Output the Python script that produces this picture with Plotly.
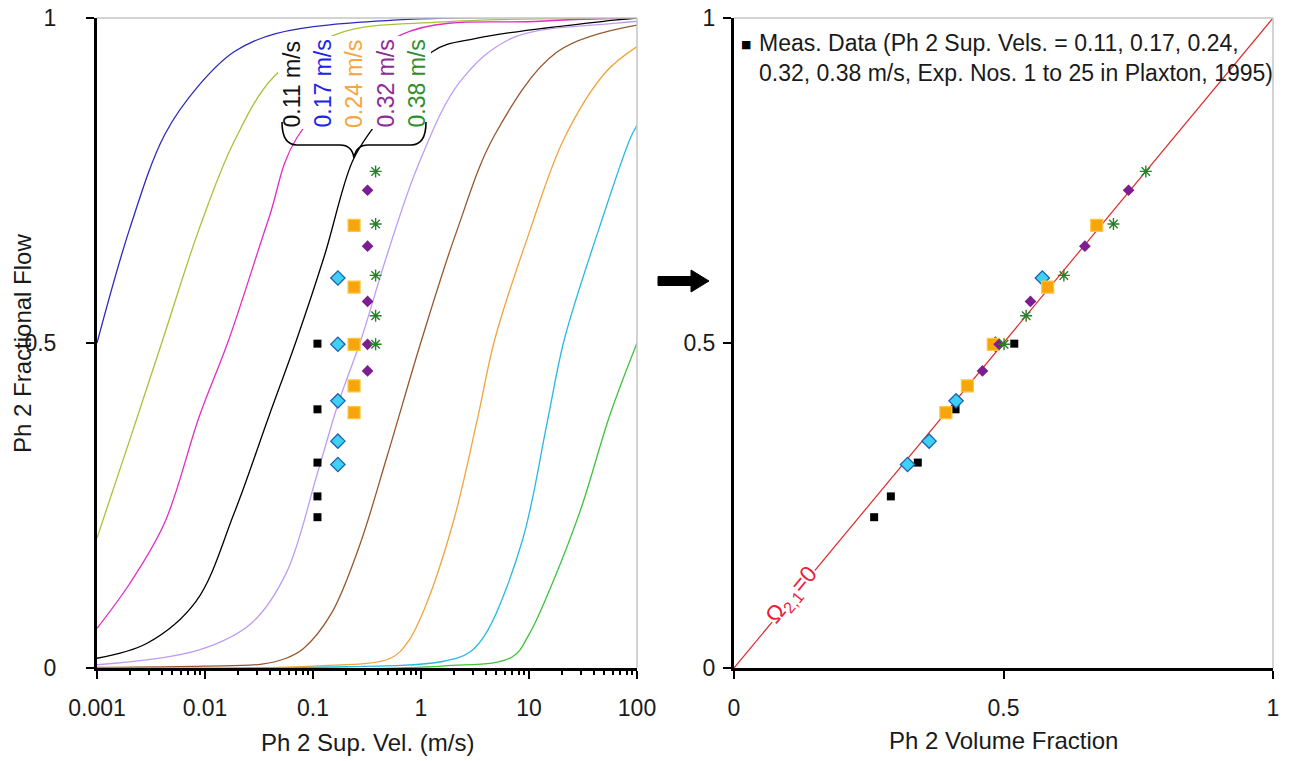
import plotly.graph_objects as go

W, H = 1293, 761
FONT = "Arial, Liberation Sans, sans-serif"

# ---------------- data ----------------
# model curves (left panel): Ph 2 superficial velocity (m/s) -> Ph 2 fractional flow
blue_x = [0.001, 0.00201, 0.00422, 0.00885, 0.0186, 0.0452, 0.604, 100]
blue_y = [0.500, 0.676, 0.820, 0.897, 0.948, 0.976, 0.997, 1.000]
olive_x = [0.001, 0.00201, 0.00406, 0.00885, 0.0186, 0.0436, 0.171, 1.585, 100]
olive_y = [0.200, 0.351, 0.505, 0.676, 0.810, 0.910, 0.976, 0.994, 1.000]
magenta_x = [0.001, 0.00201, 0.00422, 0.00885, 0.0166, 0.039, 0.0705, 0.652, 12.6, 100]
magenta_y = [0.061, 0.130, 0.223, 0.387, 0.505, 0.692, 0.815, 0.974, 0.995, 1.000]
black_x = [0.001, 0.00291, 0.00822, 0.0186, 0.039, 0.0705, 0.128, 0.231, 0.36, 1.27, 3.32, 64.6, 100]
black_y = [0.015, 0.038, 0.102, 0.238, 0.387, 0.505, 0.635, 0.779, 0.831, 0.948, 0.969, 0.997, 1.000]
lavender_x = [0.001, 0.00885, 0.0269, 0.0565, 0.110, 0.171, 0.278, 0.484, 0.944, 2.30, 6.97, 64.6, 100]
lavender_y = [0.005, 0.028, 0.069, 0.146, 0.300, 0.407, 0.505, 0.635, 0.774, 0.902, 0.969, 0.992, 0.995]
brown_x = [0.001, 0.01, 0.0336, 0.0565, 0.0817, 0.148, 0.268, 0.484, 1.014, 2.13, 4.81, 18.3, 100]
brown_y = [0.001, 0.003, 0.006, 0.015, 0.030, 0.084, 0.187, 0.325, 0.505, 0.671, 0.820, 0.948, 0.989]
orange_x = [0.001, 0.1, 0.521, 0.755, 1.094, 1.977, 3.32, 4.81, 10.1, 21.2, 51.5, 100]
orange_y = [0.000, 0.003, 0.015, 0.040, 0.094, 0.223, 0.382, 0.505, 0.671, 0.815, 0.917, 0.956]
cyan_x = [0.001, 0.1, 1.585, 2.86, 4.15, 8.71, 14.66, 21.2, 44.5, 86.7, 100]
cyan_y = [0.000, 0.001, 0.010, 0.025, 0.058, 0.197, 0.376, 0.505, 0.676, 0.815, 0.835]
green_x = [0.001, 1.585, 6.97, 10.1, 16.9, 30.7, 55.5, 100]
green_y = [0.000, 0.003, 0.017, 0.053, 0.135, 0.248, 0.387, 0.500]

curve_names = ["blue", "olive", "magenta", "black", "lavender", "brown", "orange", "cyan", "green"]
curve_colors = ["#2b2bbd", "#a6c338", "#e22cc6", "#000000", "#bf9cf2",
                "#98562c", "#f2a43c", "#28b9e2", "#3cc43c"]
curve_xs = [blue_x, olive_x, magenta_x, black_x, lavender_x, brown_x, orange_x, cyan_x, green_x]
curve_ys = [blue_y, olive_y, magenta_y, black_y, lavender_y, brown_y, orange_y, cyan_y, green_y]

# measured data (Plaxton, 1995): Ph 2 sup. velocities, fractional flows, volume fractions
sup_vel = [0.11, 0.17, 0.24, 0.32, 0.38]
frac_flow_011 = [0.499, 0.398, 0.316, 0.264, 0.232]
vol_frac_011 = [0.520, 0.411, 0.341, 0.291, 0.260]
frac_flow_017 = [0.600, 0.498, 0.411, 0.349, 0.313]
vol_frac_017 = [0.572, 0.485, 0.412, 0.362, 0.322]
frac_flow_024 = [0.681, 0.586, 0.498, 0.434, 0.393]
vol_frac_024 = [0.673, 0.582, 0.481, 0.433, 0.393]
frac_flow_032 = [0.735, 0.649, 0.564, 0.498, 0.457]
vol_frac_032 = [0.732, 0.651, 0.550, 0.492, 0.461]
frac_flow_038 = [0.764, 0.683, 0.604, 0.542, 0.498]
vol_frac_038 = [0.764, 0.704, 0.612, 0.542, 0.501]

# no-slip reference line (right panel)
ref_x = [0, 1]
ref_y = [0, 1]

# tick labels
left_x_tickvals = [0.001, 0.01, 0.1, 1, 10, 100]
left_x_ticktext = ["0.001", "0.01", "0.1", "1", "10", "100"]
y_tickvals = [0, 0.5, 1]
y_ticktext = ["0", "0.5", "1"]
right_x_tickvals = [0, 0.5, 1]
right_x_ticktext = ["0", "0.5", "1"]
vel_labels = ["0.11 m/s", "0.17 m/s", "0.24 m/s", "0.32 m/s", "0.38 m/s"]
vel_label_colors = ["#111111", "#2323e6", "#f5a640", "#8e2a9a", "#2f8f2f"]

# ---------------- figure ----------------
fig = go.Figure()

for nm, c, xs, ys in zip(curve_names, curve_colors, curve_xs, curve_ys):
    fig.add_trace(go.Scatter(x=xs, y=ys, mode="lines", name=nm,
                             line=dict(color=c, width=1.3, shape="spline", smoothing=1.0),
                             xaxis="x", yaxis="y", hoverinfo="skip"))

marker_styles = [
    dict(symbol="square", size=8, color="#000000", line=dict(width=0)),
    dict(symbol="diamond", size=11, color="#3fd0f5", line=dict(width=1.3, color="#1f5fb0")),
    dict(symbol="square", size=12, color="#f6a50a", line=dict(width=1.2, color="#ffc540")),
    dict(symbol="diamond", size=9, color="#7d1d92", line=dict(width=0)),
    dict(symbol="asterisk-open", size=10, color="#2a7f2a", line=dict(width=1.4, color="#2a7f2a")),
]
ffs = [frac_flow_011, frac_flow_017, frac_flow_024, frac_flow_032, frac_flow_038]
vfs = [vol_frac_011, vol_frac_017, vol_frac_024, vol_frac_032, vol_frac_038]

for v, ff, ms in zip(sup_vel, ffs, marker_styles):
    fig.add_trace(go.Scatter(x=[v] * len(ff), y=ff, mode="markers", marker=ms,
                             xaxis="x", yaxis="y", cliponaxis=False))

fig.add_trace(go.Scatter(x=ref_x, y=ref_y, mode="lines",
                         line=dict(color="#e02a2a", width=1.2), xaxis="x2", yaxis="y2"))
for vf, ff, ms in zip(vfs, ffs, marker_styles):
    fig.add_trace(go.Scatter(x=vf, y=ff, mode="markers", marker=ms,
                             xaxis="x2", yaxis="y2", cliponaxis=False))

L0, L1 = 97, 637
R0, R1 = 734, 1273
T, B = 18, 668


def px(X):
    return X / W


def py(Y):
    return 1 - Y / H


axis_common = dict(showline=True, linecolor="black", linewidth=3, ticks="outside",
                   ticklen=8, tickwidth=2, tickcolor="black", showgrid=False,
                   zeroline=False, automargin=False,
                   tickfont=dict(size=23, color="#1a1a1a", family=FONT))

fig.update_layout(
    width=W, height=H, margin=dict(l=0, r=0, t=0, b=0),
    paper_bgcolor="white", plot_bgcolor="white", showlegend=False,
    template="none", font=dict(family=FONT, size=22, color="#1a1a1a"),
    xaxis=dict(domain=[px(L0), px(L1)], type="log", range=[-3, 2], anchor="y",
               tickmode="array", tickvals=left_x_tickvals, ticktext=left_x_ticktext,
               ticklabelstandoff=9,
               minor=dict(tickmode="array",
                          tickvals=[k * 10.0 ** e for e in range(-3, 2) for k in range(2, 10)],
                          ticks="outside", ticklen=4, tickwidth=1.5, tickcolor="black",
                          showgrid=False),
               **axis_common),
    yaxis=dict(domain=[py(B), py(T)], range=[0, 1], anchor="x",
               tickmode="array", tickvals=y_tickvals, ticktext=y_ticktext,
               ticklabelstandoff=25, **axis_common),
    xaxis2=dict(domain=[px(R0), px(R1)], range=[0, 1], anchor="y2",
                tickmode="array", tickvals=right_x_tickvals, ticktext=right_x_ticktext,
                ticklabelstandoff=9, **axis_common),
    yaxis2=dict(domain=[py(B), py(T)], range=[0, 1], anchor="x2",
                tickmode="array", tickvals=y_tickvals, ticktext=y_ticktext,
                ticklabelstandoff=3, **axis_common),
)

shapes = []
# light gray top / right frame edges of both panels
for a, b in [(L0, L1), (R0, R1)]:
    shapes.append(dict(type="line", xref="paper", yref="paper", x0=px(a), x1=px(b),
                       y0=py(T), y1=py(T), line=dict(color="#c4c4c4", width=1.5)))
    shapes.append(dict(type="line", xref="paper", yref="paper", x0=px(b), x1=px(b),
                       y0=py(T), y1=py(B), line=dict(color="#c4c4c4", width=1.5)))

# white box behind the velocity labels
shapes.append(dict(type="rect", xref="paper", yref="paper", x0=px(278), x1=px(431),
                   y0=py(129), y1=py(36), fillcolor="white", line=dict(width=0),
                   layer="above"))


def path_from(cmds):
    out = []
    for c in cmds:
        if isinstance(c, str):
            out.append(c)
        else:
            out.append(f"{px(c[0]):.5f},{py(c[1]):.5f}")
    return " ".join(out)


# curly brace under the labels
brace = path_from(["M", (282, 122), "Q", (282, 145), (297, 145), "L", (340, 145),
                   "Q", (352, 145), (354, 158), "Q", (356, 145), (368, 145),
                   "L", (411, 145), "Q", (426, 145), (426, 122)])
shapes.append(dict(type="path", xref="paper", yref="paper", path=brace,
                   line=dict(color="black", width=1.6), layer="above"))

# arrow between panels
arrow = path_from(["M", (658, 276.5), "L", (691, 276.5), "L", (691, 270), "L", (709, 281),
                   "L", (691, 292), "L", (691, 285.5), "L", (658, 285.5), "Z"])
shapes.append(dict(type="path", xref="paper", yref="paper", path=arrow,
                   fillcolor="black", line=dict(color="black", width=1)))

fig.update_layout(shapes=shapes)

ann = []
label_x = [291.5, 322.5, 354, 385.5, 416.5]
for X, t, c in zip(label_x, vel_labels, vel_label_colors):
    ann.append(dict(x=px(X), y=py(84), xref="paper", yref="paper", text=t,
                    textangle=-90, showarrow=False, xanchor="center", yanchor="middle",
                    font=dict(size=23, color=c, family=FONT)))

ann.append(dict(x=px(367), y=py(742), xref="paper", yref="paper",
                xanchor="center", yanchor="middle",
                text="Ph 2 Sup. Vel. (m/s)", showarrow=False,
                font=dict(size=24, color="#1a1a1a", family=FONT)))
ann.append(dict(x=px(1003), y=py(740), xref="paper", yref="paper",
                xanchor="center", yanchor="middle",
                text="Ph 2 Volume Fraction", showarrow=False,
                font=dict(size=24, color="#1a1a1a", family=FONT)))
ann.append(dict(x=px(22), y=py(344), xref="paper", yref="paper",
                xanchor="center", yanchor="middle",
                text="Ph 2 Fractional Flow", showarrow=False, textangle=-90,
                font=dict(size=24, color="#1a1a1a", family=FONT)))

# legend-like note in right panel
ann.append(dict(x=px(746), y=py(45), xref="paper", yref="paper", text="■",
                xanchor="center", yanchor="middle",
                showarrow=False, font=dict(size=11, color="black", family="DejaVu Sans")))
ann.append(dict(x=px(757), y=py(58), xref="paper", yref="paper", xanchor="left",
                yanchor="middle", align="left", showarrow=False,
                text="Meas. Data (Ph 2 Sup. Vels. = 0.11, 0.17, 0.24,<br>"
                     "0.32, 0.38 m/s, Exp. Nos. 1 to 25 in Plaxton, 1995)",
                font=dict(size=23, color="#1a1a1a", family=FONT)))

# Omega label on the reference line
ann.append(dict(x=0.107, y=0.112, xref="x2", yref="y2", text="Ω<sub>2,1</sub>=0",
                xanchor="center", yanchor="middle",
                showarrow=False, textangle=-50.3, bgcolor="white", borderpad=0,
                font=dict(size=23, color="#e8203a", family=FONT)))

fig.update_layout(annotations=ann)

fig.write_html("out.html")
